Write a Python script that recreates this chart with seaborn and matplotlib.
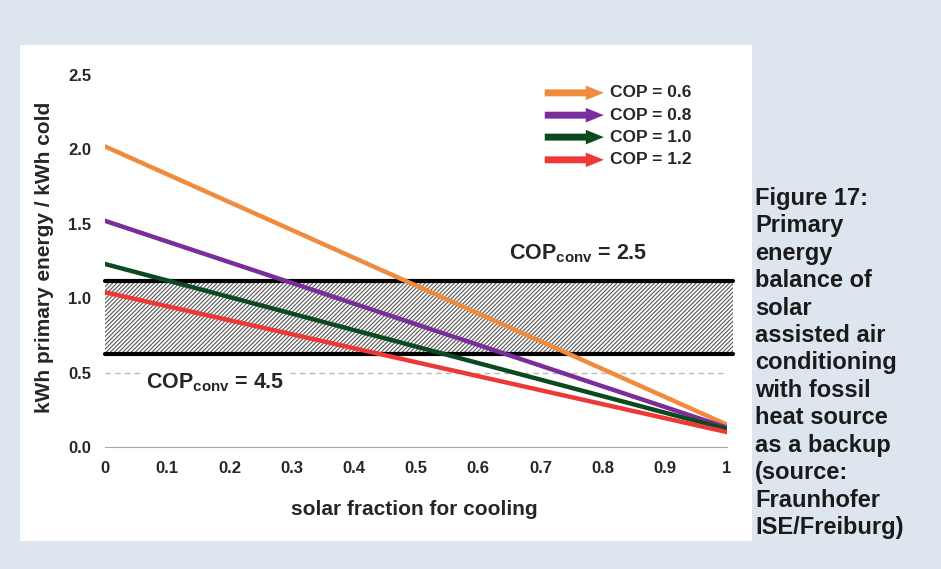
import seaborn as sns
import pandas as pd
import numpy as np
import matplotlib.pyplot as plt
from matplotlib.patches import Rectangle

# data
solar_fraction = [0.0, 1.0]
cop_labels = ["COP = 0.6", "COP = 0.8", "COP = 1.0", "COP = 1.2"]
cop_start = [2.02, 1.52, 1.23, 1.04]
cop_end = [0.15, 0.13, 0.12, 0.10]
band_low = 0.625   # COP_conv = 4.5
band_high = 1.115  # COP_conv = 2.5
xticks = [0, 0.1, 0.2, 0.3, 0.4, 0.5, 0.6, 0.7, 0.8, 0.9, 1]
xtick_labels = ["0", "0.1", "0.2", "0.3", "0.4", "0.5", "0.6", "0.7", "0.8", "0.9", "1"]
yticks = [0.0, 0.5, 1.0, 1.5, 2.0, 2.5]

colors = ["#f08a3c", "#7b2d9c", "#0b4a1f", "#ee3838"]

rows = []
for lab, a, b in zip(cop_labels, cop_start, cop_end):
    rows.append({"sf": solar_fraction[0], "val": a, "cop": lab})
    rows.append({"sf": solar_fraction[1], "val": b, "cop": lab})
df = pd.DataFrame(rows)

sns.set_style("white")
plt.rcParams["font.family"] = ["Liberation Sans", "DejaVu Sans"]
plt.rcParams["mathtext.fontset"] = "custom"
plt.rcParams["mathtext.bf"] = "Liberation Sans:bold"
plt.rcParams["mathtext.rm"] = "Liberation Sans:bold"
plt.rcParams["hatch.linewidth"] = 0.8

fig = plt.figure(figsize=(9.41, 5.69), dpi=100)
fig.patch.set_facecolor("#dde6ee")
fig.patches.append(Rectangle((20 / 941, 1 - 541 / 569), 732 / 941, 496 / 569,
                             transform=fig.transFigure, facecolor="white",
                             edgecolor="none", zorder=-5))

ax = fig.add_axes([105 / 941, 1 - 447 / 569, 622 / 941, 372 / 569])
ax.set_facecolor("none")
ax.set_zorder(2)

# hatched band between the two conventional COPs
ax.fill_between([0, 1.01], band_low, band_high, facecolor="white",
                edgecolor="#555555", hatch="////////", linewidth=0, zorder=1, clip_on=False)
ax.plot([0, 1.01], [band_high, band_high], color="black", lw=3, zorder=2, clip_on=False)
ax.plot([0, 1.01], [band_low, band_low], color="black", lw=3, zorder=2, clip_on=False)

# dashed grid line at 0.5
ax.plot([0, 1], [0.5, 0.5], color="#bbbbbb", lw=1, ls=(0, (4, 3)), zorder=1)

sns.lineplot(data=df, x="sf", y="val", hue="cop", palette=colors, lw=3.2,
             legend=False, ax=ax, zorder=3)

ax.text(0.066, 0.435, r"COP$_{\mathbf{conv}}$ = 4.5", fontsize=15.5, fontweight="bold",
        va="center", ha="left", zorder=4,
        bbox=dict(facecolor="white", edgecolor="none", pad=2))
ax.text(0.65, 1.3, r"COP$_{\mathbf{conv}}$ = 2.5", fontsize=15.5, fontweight="bold",
        va="center", ha="left", zorder=4)

# arrow legend
ys = [0.952, 0.892, 0.833, 0.772]
for lab, c, y in zip(cop_labels, colors, ys):
    ax.annotate("", xy=(0.802, y), xytext=(0.707, y), xycoords="axes fraction",
                arrowprops=dict(arrowstyle="simple,head_length=1.3,head_width=1.05,tail_width=0.5",
                                color=c, lw=0, shrinkA=0, shrinkB=0))
    ax.text(0.812, y, lab, transform=ax.transAxes, fontsize=12.5, fontweight="bold",
            va="center", ha="left")

ax.set_xlim(0, 1)
ax.set_ylim(0, 2.5)
ax.set_xticks(xticks)
ax.set_xticklabels(xtick_labels)
ax.set_yticks(yticks)
ax.set_yticklabels([f"{v:.1f}" for v in yticks])
for lbl in ax.get_xticklabels() + ax.get_yticklabels():
    lbl.set_fontweight("bold")
    lbl.set_fontsize(12)
ax.tick_params(axis="x", direction="in", length=5, color="#aaaaaa", pad=10)
ax.tick_params(axis="y", length=0, pad=10)
sns.despine(ax=ax, left=True)
ax.spines["bottom"].set_color("#aaaaaa")
ax.spines["bottom"].set_linewidth(0.8)

ax.set_xlabel("solar fraction for cooling", fontsize=15, fontweight="bold")
ax.set_ylabel("kWh primary energy / kWh cold", fontsize=15, fontweight="bold")
ax.xaxis.set_label_coords(0.498, -0.169)
ax.yaxis.set_label_coords(-0.0965, 0.51)
ax.xaxis.label.set_va("center")
ax.yaxis.label.set_va("center")

caption = ("Figure 17:\nPrimary\nenergy\nbalance of\nsolar\nassisted air\nconditioning\n"
           "with fossil\nheat source\nas a backup\n(source:\nFraunhofer\nISE/Freiburg)")
fig.text(755 / 941, 1 - 187 / 569, caption, fontsize=17, fontweight="bold",
         color="#1a1a1a", va="top", ha="left", linespacing=1.245)

fig.savefig("out.png", dpi=100, facecolor=fig.get_facecolor())
